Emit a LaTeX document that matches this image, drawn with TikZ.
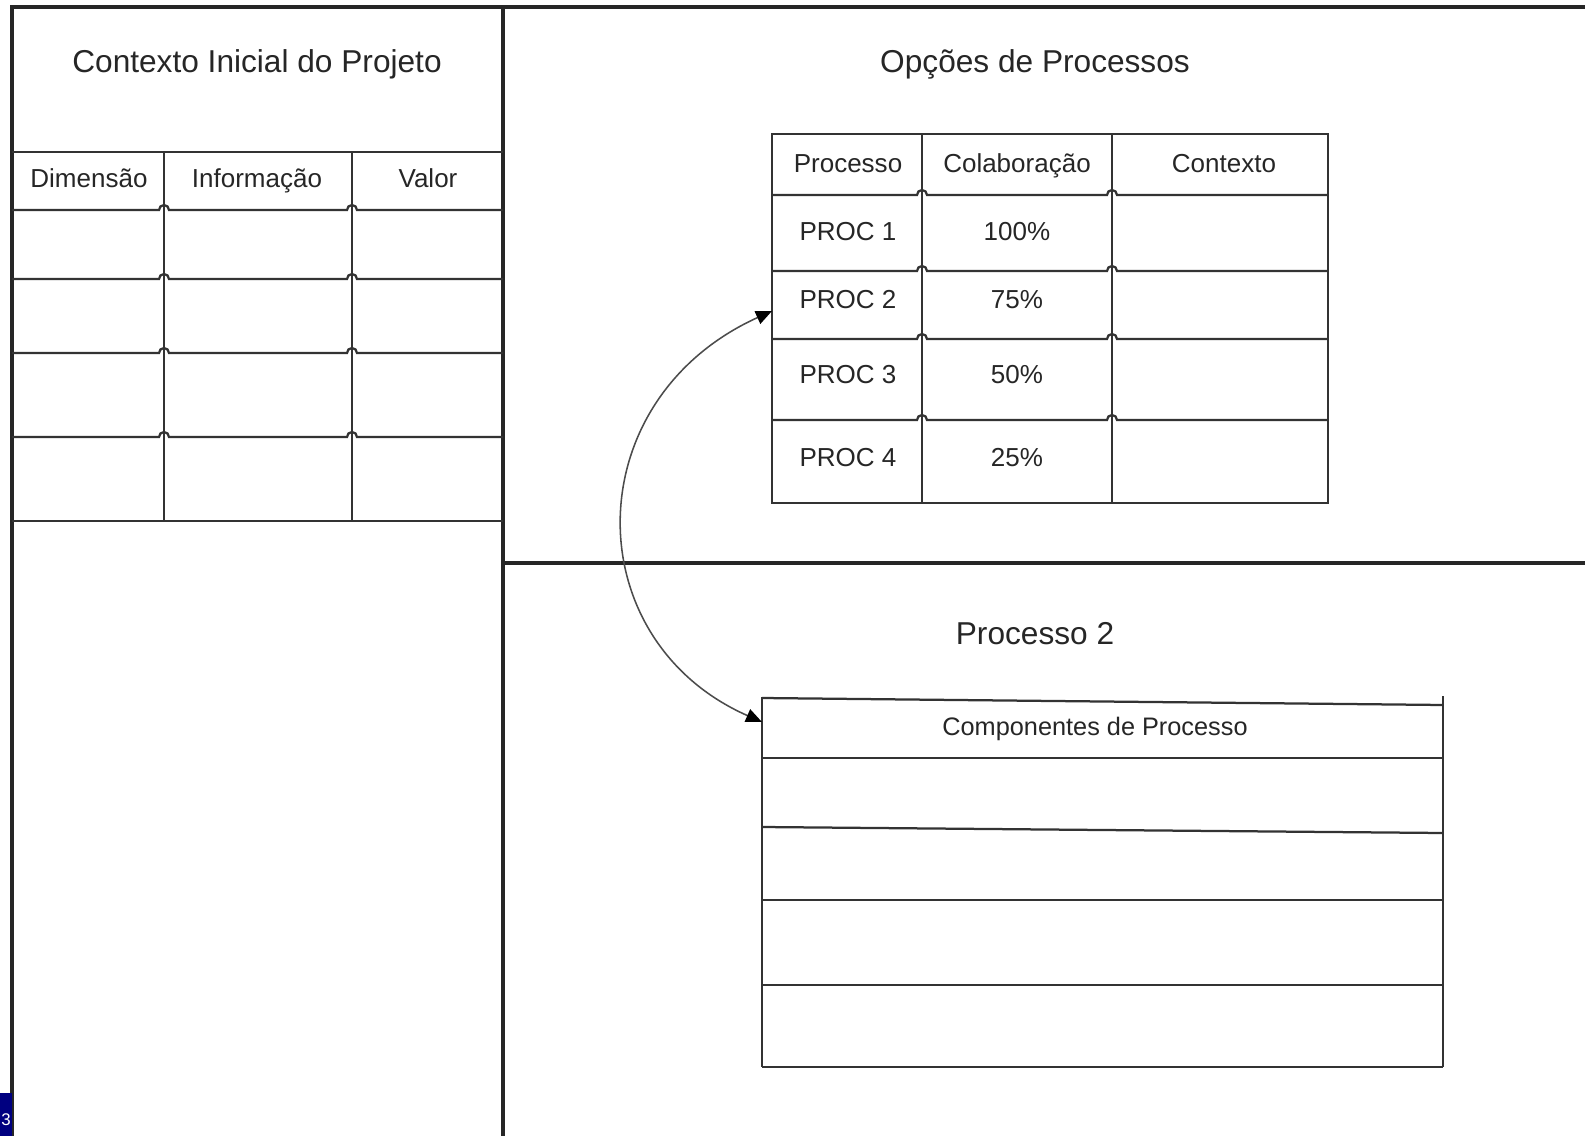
\documentclass[tikz,border=0pt]{standalone}
\usepackage{fontspec}
\setmainfont{Liberation Sans}
\usetikzlibrary{arrows.meta}
\definecolor{slideblue}{RGB}{0,0,128}

\begin{document}
\begin{tikzpicture}[x=0.025cm, y=-0.025cm,
  frame/.style={line width=2.4pt, draw=black!85},
  grid/.style={line width=1.6pt, draw=black!80},
  title/.style={font=\fontsize{22.5}{27}\selectfont, text=black!85, text height=16pt, text depth=5pt},
  cell/.style={font=\fontsize{18.5}{22}\selectfont, text=black!85, text height=13pt, text depth=4pt},
  link/.style={line width=1.1pt, draw=black!70, {Triangle[length=4mm,width=3.4mm,color=black]}-{Triangle[length=4mm,width=3.4mm,color=black]}}]

\useasboundingbox (0,0) rectangle (1585,1136);

  % Frame
  \draw[frame] (12,1136) -- (12,7) -- (1585,7);
  \draw[frame] (503,7) -- (503,1136);
  \draw[frame] (503,563) -- (1585,563);

  % Contexto inicial
  \node[title] (ctxtitle) at (257,65) {Contexto Inicial do Projeto};
  \draw[grid] (12,152) -- (503,152);
  \draw[grid] (164,152) -- (164,521);
  \draw[grid] (352,152) -- (352,521);
  \foreach \y in {210,279,353,437}
    \draw[grid] (12,\y) -- (159,\y) arc[start angle=180, end angle=360, radius=5]
      -- (347,\y) arc[start angle=180, end angle=360, radius=5] -- (503,\y);
  \draw[grid] (12,521) -- (503,521);
  \node[cell] (dim) at (89,181) {Dimensão};
  \node[cell] (info) at (257,181) {Informação};
  \node[cell] (valor) at (428,181) {Valor};

  % Opcoes de processos
  \node[title] (opttitle) at (1035,65) {Opções de Processos};
  \draw[grid] (772,134) rectangle (1328,503);
  \draw[grid] (922,134) -- (922,503);
  \draw[grid] (1112,134) -- (1112,503);
  \foreach \y in {195,271,339,420}
    \draw[grid] (772,\y) -- (917,\y) arc[start angle=180, end angle=360, radius=5]
      -- (1107,\y) arc[start angle=180, end angle=360, radius=5] -- (1328,\y);
  \node[cell] (proc) at (848,166) {Processo};
  \node[cell] (colab) at (1017,166) {Colaboração};
  \node[cell] (ctx) at (1224,166) {Contexto};
  \foreach \n/\p/\y in {1/100/234, 2/75/302, 3/50/377, 4/25/460} {
    \node[cell] (proc\n) at (848,\y) {PROC \n};
    \node[cell] (colab\n) at (1017,\y) {\p\%};
  }

  % Processo 2
  \node[title] (p2title) at (1035,637) {Processo 2};
  \draw[grid] (762,698) -- (1443,705);
  \draw[grid] (762,697) -- (762,1067);
  \draw[grid] (1443,696) -- (1443,1067);
  \draw[grid] (762,758) -- (1443,758);
  \draw[grid] (762,827) -- (1443,833);
  \draw[grid] (762,900) -- (1443,900);
  \draw[grid] (762,985) -- (1443,985);
  \draw[grid] (762,1067) -- (1443,1067);
  \node[cell, font=\fontsize{18}{22}\selectfont] (comp) at (1095,729) {Componentes de Processo};

  % Arrows
  \coordinate (p2in) at (772,311);
  \coordinate (compin) at (762,722);
  \draw[link] (compin) .. controls (576,640) and (576,400) .. (p2in);

  % slide number
  \fill[slideblue] (0,1093) rectangle (12,1136);
  \node[text=white, font=\fontsize{12}{14}\selectfont, inner sep=0pt] (pagenum) at (6,1120) {3};

\end{tikzpicture}
\end{document}
